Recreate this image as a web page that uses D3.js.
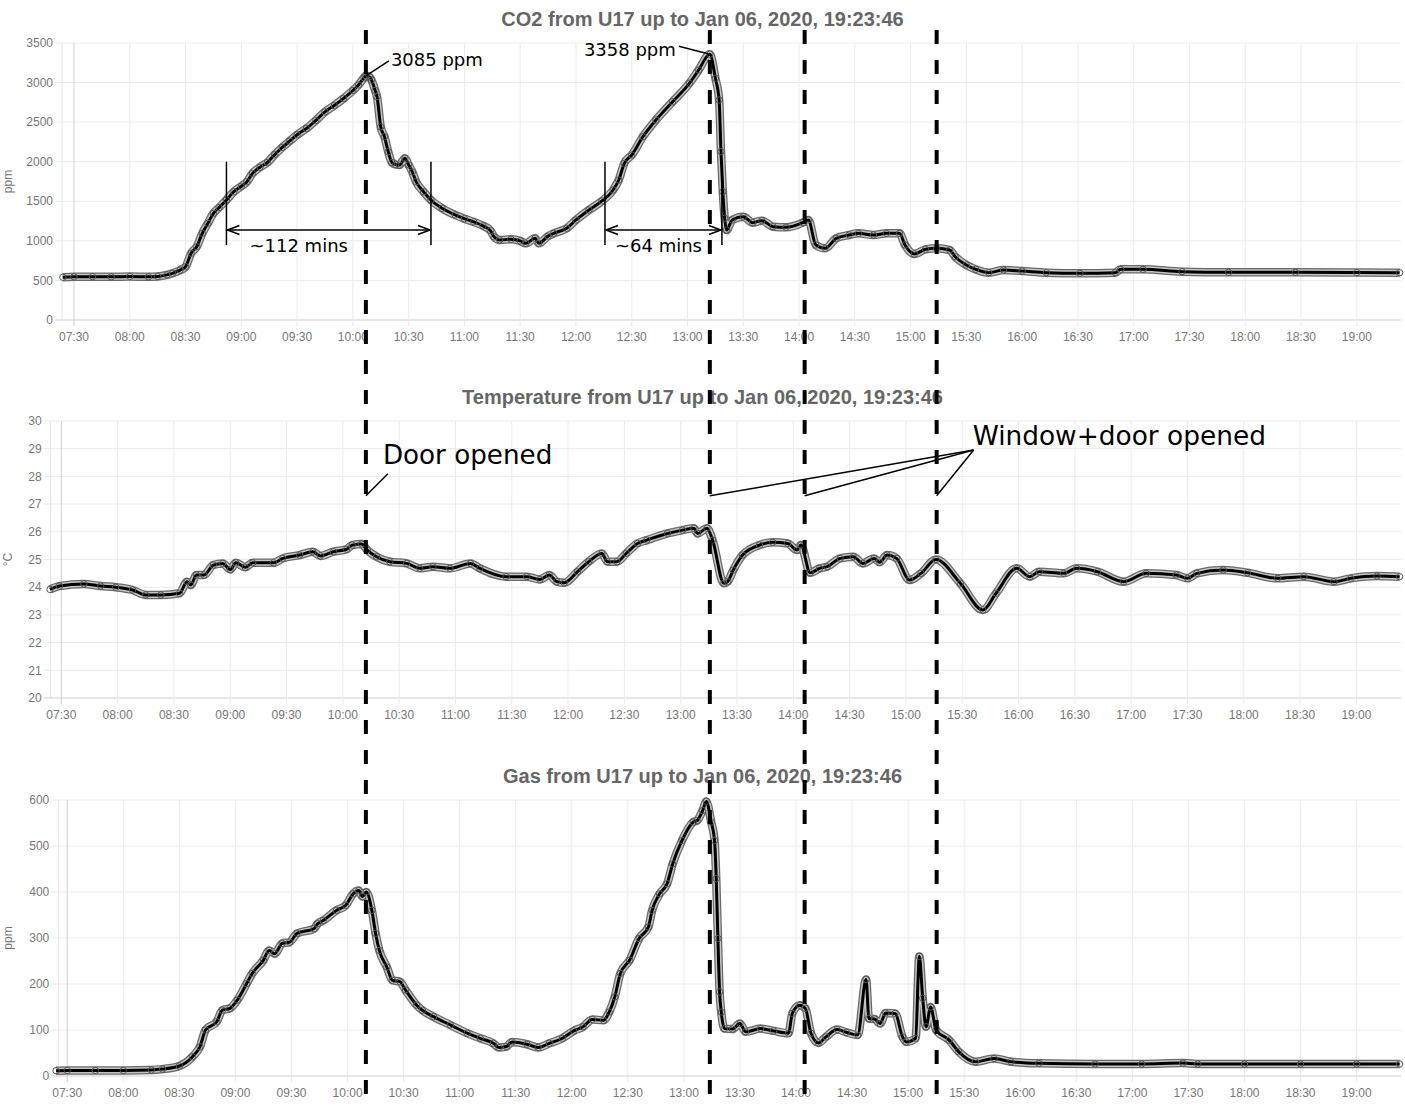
<!DOCTYPE html>
<html><head><meta charset="utf-8">
<script src="https://cdn.jsdelivr.net/npm/d3@7"></script>
<style>body{margin:0;background:#fff}svg{display:block}</style>
</head><body>
<svg id="chart" width="1405" height="1107"></svg>
<script>
// ---------------- DATA ----------------
const xTickLabels = ["07:30","08:00","08:30","09:00","09:30","10:00","10:30","11:00","11:30","12:00","12:30","13:00","13:30","14:00","14:30","15:00","15:30","16:00","16:30","17:00","17:30","18:00","18:30","19:00"];

const co2Ticks = [0,500,1000,1500,2000,2500,3000,3500];
const tempTicks = [20,21,22,23,24,25,26,27,28,29,30];
const gasTicks = [0,100,200,300,400,500,600];

const co2Times = ["07:24","07:30","07:40","07:50","08:00","08:10","08:15","08:20","08:23","08:27","08:30","08:33","08:36","08:39","08:42","08:45","08:48","08:52","08:56","09:00","09:03","09:06","09:10","09:14","09:18","09:22","09:26","09:30","09:35","09:40","09:45","09:50","09:55","10:00","10:03","10:06","10:07","10:09","10:10","10:12","10:13","10:15","10:17","10:19","10:21","10:23","10:25","10:28","10:30","10:32","10:34","10:38","10:42","10:48","10:55","11:00","11:05","11:10","11:14","11:16","11:19","11:25","11:30","11:33","11:38","11:40","11:45","11:48","11:55","12:00","12:07","12:14","12:20","12:23","12:26","12:30","12:36","12:43","12:52","13:01","13:06","13:12","13:15","13:17","13:18","13:19","13:20","13:21","13:24","13:30","13:35","13:40","13:46","13:53","14:02","14:05","14:09","14:14","14:20","14:27","14:32","14:40","14:47","14:54","14:57","15:02","15:08","15:14","15:21","15:24","15:30","15:35","15:42","15:50","16:00","16:13","16:31","16:50","16:53","17:05","17:26","17:51","18:27","19:00","19:23"];
const co2Values = [540,545,548,545,550,545,550,570,590,630,673,843,926,1095,1222,1348,1420,1516,1621,1690,1747,1853,1930,1990,2090,2180,2260,2340,2420,2520,2630,2710,2800,2900,2970,3060,3085,3070,3032,2900,2820,2440,2316,2127,1990,1965,1958,2043,1960,1870,1747,1621,1516,1411,1327,1280,1240,1190,1130,1050,1011,1020,1000,969,1032,969,1060,1095,1158,1264,1390,1504,1643,1769,1980,2085,2316,2527,2758,2991,3159,3358,3054,2780,2127,1621,1285,1137,1264,1305,1230,1255,1179,1171,1230,1264,948,906,1032,1074,1095,1074,1095,1095,948,834,893,906,884,800,695,640,598,632,619,598,590,598,640,640,611,602,602,600,598];

const tempTimes = ["07:24","07:29","07:42","07:51","07:59","08:08","08:15","08:23","08:33","08:37","08:39","08:42","08:46","08:51","08:56","09:00","09:03","09:08","09:12","09:23","09:28","09:37","09:44","09:48","09:55","10:02","10:05","10:10","10:13","10:18","10:25","10:34","10:41","10:48","10:57","11:08","11:13","11:27","11:38","11:45","11:50","11:54","11:58","12:05","12:11","12:18","12:21","12:26","12:31","12:37","12:42","12:53","13:01","13:07","13:09","13:14","13:17","13:23","13:25","13:28","13:33","13:42","13:49","13:57","14:02","14:04","14:09","14:14","14:18","14:25","14:32","14:37","14:43","14:46","14:50","14:55","15:02","15:08","15:16","15:29","15:41","15:48","15:59","16:06","16:11","16:24","16:31","16:42","16:56","17:08","17:24","17:30","17:35","17:49","18:02","18:18","18:32","18:48","18:57","19:11","19:23"];
const tempValues = [23.92,24.04,24.12,24.04,24.0,23.9,23.72,23.72,23.78,24.2,24.08,24.44,24.44,24.8,24.86,24.64,24.88,24.72,24.88,24.88,25.04,25.16,25.28,25.13,25.28,25.37,25.52,25.56,25.34,25.1,24.92,24.86,24.68,24.74,24.68,24.86,24.68,24.38,24.38,24.28,24.44,24.2,24.16,24.56,24.92,25.22,24.92,24.92,25.22,25.58,25.7,25.94,26.06,26.13,25.94,26.13,25.7,24.14,24.2,24.62,25.16,25.52,25.62,25.58,25.34,25.52,24.52,24.68,24.74,25.04,25.1,24.86,25.04,24.9,25.16,25.04,24.26,24.5,25.0,24.14,23.18,23.78,24.68,24.38,24.56,24.5,24.68,24.56,24.2,24.5,24.44,24.32,24.5,24.62,24.52,24.32,24.38,24.2,24.32,24.4,24.38];

const gasTimes = ["07:24","07:30","07:45","08:00","08:15","08:21","08:30","08:37","08:41","08:44","08:50","08:53","08:57","09:01","09:06","09:09","09:15","09:18","09:21","09:25","09:29","09:33","09:42","09:44","09:47","09:54","09:59","10:03","10:06","10:08","10:10","10:13","10:15","10:17","10:21","10:24","10:28","10:31","10:37","10:40","10:46","10:55","11:04","11:11","11:18","11:21","11:25","11:28","11:36","11:42","11:48","11:55","12:01","12:06","12:11","12:17","12:20","12:23","12:26","12:31","12:36","12:41","12:43","12:47","12:51","12:54","12:59","13:05","13:07","13:10","13:12","13:14:36","13:16:24","13:17:18","13:18:12","13:19:06","13:20:00","13:21:42","13:26","13:30","13:33","13:41","13:48","13:56","13:58","14:02","14:05","14:08","14:12","14:16","14:22","14:27","14:33","14:37:30","14:39","14:42","14:45","14:48","14:53","14:57","14:59","15:04","15:06","15:07:48","15:09:36","15:12","15:15","15:22","15:27","15:36","15:46","15:55","16:10","16:40","17:05","17:27","17:35","18:00","18:30","19:00","19:23"];
const gasValues = [11.5,12,12,12,13,15,21.7,42,63.6,100,118,143,147,165,201,223,252,273,266,288,291,310,320,331,338,360,371,396,403,390,400,360,310,273,237,208,205,187,154,143,129,111,93,82,71,62,64,74,69,62,71,82,98,107,123,121,139,172,223,252,299,324,360,396,418,461,512,552,555,577,597,552,512,429,299,183,139,103,102,114,96,103,98,93,136,154,147,93,72,85,101,95,89,210,125,124,114,137,136,85,74,82,260,169,107,150,100,78,53,31,38,31,27.5,26,26,28,26,26,26,26,26];

const eventTimes = ["10:07","13:12","14:03","15:14"];
const titles = ["CO2 from U17 up to Jan 06, 2020, 19:23:46","Temperature from U17 up to Jan 06, 2020, 19:23:46","Gas from U17 up to Jan 06, 2020, 19:23:46"];
const yLabels = ["ppm","°C","ppm"];

// ---------------- LAYOUT ----------------
function pt(s){const p=s.split(":").map(Number);return new Date(2020,0,6,p[0],p[1],p[2]||0);}
const endTime = pt("19:23:46");
const W = 1405, H = 1107, RIGHT = 1401;
const panels = [
  {title:titles[0], yLabel:yLabels[0], times:co2Times, values:co2Values, ticks:co2Ticks, left:62,  top:43,  bottom:320,  start:"07:23:33"},
  {title:titles[1], yLabel:yLabels[1], times:tempTimes, values:tempValues, ticks:tempTicks, left:50.7, top:421, bottom:698, start:"07:24:21"},
  {title:titles[2], yLabel:yLabels[2], times:gasTimes, values:gasValues, ticks:gasTicks, left:58.3, top:800, bottom:1076, start:"07:25:12"}
];
const SANS = "'Liberation Sans', Arial, Helvetica, sans-serif";
const ANN = "'DejaVu Sans', sans-serif";

const svg = d3.select("#chart");
svg.append("rect").attr("width",W).attr("height",H).attr("fill","#fff");

panels.forEach((p,i)=>{
  const x = d3.scaleTime().domain([pt(p.start), endTime]).range([p.left, RIGHT]);
  const y = d3.scaleLinear().domain(d3.extent(p.ticks)).range([p.bottom, p.top]);
  p.x = x; p.y = y;
  const g = svg.append("g");
  // title
  g.append("text").attr("x",W/2).attr("y",p.top-17).attr("text-anchor","middle")
    .attr("font-family",SANS).attr("font-weight","bold").attr("font-size",20).attr("fill","#666").text(p.title);
  // horizontal grid
  g.selectAll(".hg").data(p.ticks).join("line")
    .attr("x1",p.left-7).attr("x2",RIGHT).attr("y1",d=>y(d)).attr("y2",d=>y(d))
    .attr("stroke",(d,j)=>j===0?"#cfcfcf":"#ebebeb").attr("stroke-width",1);
  // vertical grid
  const xt = xTickLabels.map(pt);
  g.selectAll(".vg").data(xt).join("line")
    .attr("x1",d=>x(d)).attr("x2",d=>x(d)).attr("y1",p.top).attr("y2",p.bottom+6)
    .attr("stroke",(d,j)=>j===0?"#cfcfcf":"#ebebeb").attr("stroke-width",1);
  g.append("line").attr("x1",p.left).attr("x2",p.left).attr("y1",p.top).attr("y2",p.bottom).attr("stroke","#e4e4e4");
  // y tick labels
  g.selectAll(".yl").data(p.ticks).join("text")
    .attr("x",p.left-9).attr("y",d=>y(d)).attr("dy","0.35em").attr("text-anchor","end")
    .attr("font-family",SANS).attr("font-size",12).attr("fill","#777").text(d=>d);
  // x tick labels
  g.selectAll(".xl").data(xt).join("text")
    .attr("x",d=>x(d)).attr("y",p.bottom+21).attr("text-anchor","middle")
    .attr("font-family",SANS).attr("font-size",12).attr("fill","#777").text((d,j)=>xTickLabels[j]);
  // y axis title
  g.append("text").attr("transform",`translate(12,${(p.top+p.bottom)/2}) rotate(-90)`)
    .attr("text-anchor","middle").attr("font-family",SANS).attr("font-size",12).attr("fill","#777").text(p.yLabel);
  // series
  const data = p.times.map((t,j)=>({t:pt(t), v:p.values[j]}));
  const line = d3.line().x(d=>x(d.t)).y(d=>y(d.v)).curve(d3.curveMonotoneX);
  g.append("path").attr("d",line(data)).attr("fill","none").attr("stroke","#6a6a6a").attr("stroke-width",8.5).attr("stroke-linejoin","round");
  g.append("path").attr("d",line(data)).attr("fill","none").attr("stroke","#c4c4c4").attr("stroke-width",6).attr("stroke-linejoin","round");
  g.append("path").attr("d",line(data)).attr("fill","none").attr("stroke","#000").attr("stroke-width",3).attr("stroke-linejoin","round");
  g.selectAll(".pt").data(data).join("circle")
    .attr("cx",d=>x(d.t)).attr("cy",d=>y(d.v)).attr("r",3.2)
    .attr("fill","none").attr("stroke","#555").attr("stroke-width",1);
});

// ---------------- ANNOTATIONS ----------------
const co2 = panels[0], tmp = panels[1];
const ann = svg.append("g").attr("stroke","#000").attr("fill","none");
// dashed event lines
eventTimes.forEach(t=>{
  ann.append("line").attr("x1",co2.x(pt(t))).attr("x2",co2.x(pt(t))).attr("y1",30).attr("y2",H)
    .attr("stroke-width",4).attr("stroke-dasharray","14,16");
});
// peak labels
const pk1 = {t:pt("10:07"), v:3085}, pk2 = {t:pt("13:12"), v:3358};
ann.append("line").attr("x1",co2.x(pk1.t)).attr("y1",co2.y(pk1.v)).attr("x2",co2.x(pk1.t)+23).attr("y2",co2.y(pk1.v)-15).attr("stroke-width",1.5);
svg.append("text").attr("x",co2.x(pk1.t)+25).attr("y",co2.y(pk1.v)-10).attr("font-family",ANN).attr("font-size",18).text("3085 ppm");
ann.append("line").attr("x1",co2.x(pk2.t)).attr("y1",co2.y(pk2.v)).attr("x2",co2.x(pk2.t)-31).attr("y2",co2.y(pk2.v)-8).attr("stroke-width",1.5);
svg.append("text").attr("x",co2.x(pk2.t)-34).attr("y",co2.y(pk2.v)+2).attr("text-anchor","end").attr("font-family",ANN).attr("font-size",18).text("3358 ppm");

// duration brackets
function bracket(t0,t1,label,textDx){
  const xa = co2.x(pt(t0)), xb = co2.x(pt(t1));
  const yTop = co2.y(2000), yBot = co2.y(947), yArr = co2.y(1137);
  ann.append("line").attr("x1",xa).attr("x2",xa).attr("y1",yTop).attr("y2",yBot).attr("stroke-width",1.5);
  ann.append("line").attr("x1",xb).attr("x2",xb).attr("y1",yTop).attr("y2",yBot).attr("stroke-width",1.5);
  ann.append("line").attr("x1",xa+1).attr("x2",xb-1).attr("y1",yArr).attr("y2",yArr).attr("stroke-width",1.5);
  ann.append("path").attr("d",`M${xa+13},${yArr-4.5}L${xa+1},${yArr}L${xa+13},${yArr+4.5}`).attr("stroke-width",1.5);
  ann.append("path").attr("d",`M${xb-13},${yArr-4.5}L${xb-1},${yArr}L${xb-13},${yArr+4.5}`).attr("stroke-width",1.5);
  svg.append("text").attr("x",xa+textDx).attr("y",yArr+22).attr("font-family",ANN).attr("font-size",18).text(label);
}
bracket("08:52","10:42","~112 mins",23);
bracket("12:15:36","13:18:30","~64 mins",10);

// door / window annotations
const yLead = tmp.y(27.3);
const xDoor = co2.x(pt(eventTimes[0]));
ann.append("line").attr("x1",xDoor).attr("y1",yLead).attr("x2",xDoor+22).attr("y2",yLead-22).attr("stroke-width",1.5);
svg.append("text").attr("x",xDoor+17).attr("y",tmp.y(28.3)-4).attr("font-family",ANN).attr("font-size",26.2).text("Door opened");
const hubX = co2.x(pt(eventTimes[3]))+37, hubY = tmp.y(28.95);
eventTimes.slice(1).forEach(t=>{
  ann.append("line").attr("x1",co2.x(pt(t))).attr("y1",yLead).attr("x2",hubX).attr("y2",hubY).attr("stroke-width",1.5);
});
svg.append("text").attr("x",hubX-1).attr("y",tmp.y(28.1)-28.5).attr("font-family",ANN).attr("font-size",26.4).text("Window+door opened");
</script>
</body></html>
